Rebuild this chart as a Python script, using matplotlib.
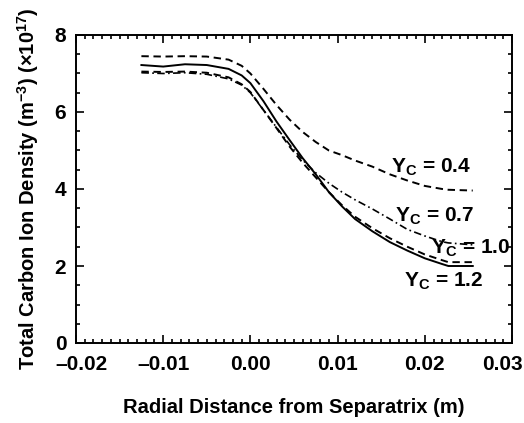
import matplotlib
matplotlib.use("Agg")
import matplotlib.pyplot as plt
from matplotlib.ticker import MultipleLocator
from matplotlib.transforms import ScaledTranslation

# ---- data ----
x_pts = [-0.0125, -0.010, -0.0075, -0.005, -0.0025, -0.001, 0.0, 0.0015, 0.003, 0.0045,
         0.006, 0.0075, 0.009, 0.0105, 0.012, 0.014, 0.016, 0.018, 0.020, 0.022, 0.0227, 0.0255]
y_04 = [7.45, 7.44, 7.45, 7.44, 7.36, 7.20, 7.00, 6.60, 6.18, 5.80,
        5.48, 5.22, 5.00, 4.88, 4.74, 4.58, 4.38, 4.22, 4.08, 4.00, 3.98, 3.96]
y_07 = [7.02, 7.00, 7.02, 6.98, 6.86, 6.70, 6.50, 6.05, 5.60, 5.15,
        4.75, 4.42, 4.15, 3.92, 3.72, 3.48, 3.22, 2.95, 2.78, 2.63, 2.60, 2.55]
y_10 = [7.05, 7.04, 7.05, 7.02, 6.90, 6.72, 6.52, 6.05, 5.58, 5.10,
        4.68, 4.30, 3.92, 3.58, 3.28, 2.98, 2.72, 2.50, 2.30, 2.15, 2.10, 2.10]
y_12 = [7.22, 7.18, 7.24, 7.22, 7.12, 6.95, 6.75, 6.28, 5.75, 5.27,
        4.80, 4.38, 3.92, 3.55, 3.22, 2.90, 2.62, 2.40, 2.20, 2.05, 2.00, 2.00]
labels = ["Y$_\\mathregular{C}$ = 0.4", "Y$_\\mathregular{C}$ = 0.7",
          "Y$_\\mathregular{C}$ = 1.0", "Y$_\\mathregular{C}$ = 1.2"]
label_pos = [(0.0207, 4.57), (0.0211, 3.30), (0.0252, 2.47), (0.0222, 1.61)]
xticks = [-0.02, -0.01, 0.00, 0.01, 0.02, 0.03]
xticklabels = ["\u20130.02", "\u20130.01", "0.00", "0.01", "0.02", "0.03"]
yticks = [0, 2, 4, 6, 8]

fam = "Liberation Sans"
plt.rcParams["font.family"] = [fam, "DejaVu Sans"]
plt.rcParams["font.weight"] = "bold"
plt.rcParams["mathtext.fontset"] = "custom"
plt.rcParams["mathtext.rm"] = fam + ":bold"
plt.rcParams["mathtext.it"] = fam + ":bold"
plt.rcParams["mathtext.bf"] = fam + ":bold"
plt.rcParams["mathtext.default"] = "rm"

fig = plt.figure(figsize=(5.24, 4.23), dpi=100)
ax = fig.add_axes([76/524, 1-343/423, (512-76)/524, (343-35)/423])

lw = 1.4
ax.plot(x_pts, y_04, color="black", lw=lw, dashes=(3.8, 2.4))
ax.plot(x_pts, y_07, color="black", lw=1.2, dashes=(4.5, 2.0, 1.0, 2.0))
ax.plot(x_pts, y_10, color="black", lw=lw, dashes=(3.8, 2.4))
ax.plot(x_pts, y_12, color="black", lw=lw)

fs = 14.5
for (lx, ly), t in zip(label_pos, labels):
    ax.text(lx, ly, t, ha="center", va="center", fontsize=15, fontweight="bold")

ax.set_xlim(-0.02, 0.03)
ax.set_ylim(0, 8)
ax.set_xticks(xticks)
ax.set_xticklabels(xticklabels)
ax.set_yticks(yticks)
ax.xaxis.set_minor_locator(MultipleLocator(0.001))
ax.yaxis.set_minor_locator(MultipleLocator(0.5))
ax.tick_params(which="both", direction="in", top=True, right=True, width=1.2)
ax.tick_params(which="major", length=6, labelsize=15)
ax.tick_params(axis="x", which="major", pad=9)
ax.tick_params(axis="y", which="major", pad=7)
ax.tick_params(which="minor", length=3)
for s in ax.spines.values():
    s.set_linewidth(1.4)
xlabs = ax.get_xticklabels()
for lab in xlabs + ax.get_yticklabels():
    lab.set_fontweight("bold")
# nudge the end labels inward as in the reference
xlabs[0].set_transform(xlabs[0].get_transform() + ScaledTranslation(6/100, 0, fig.dpi_scale_trans))
xlabs[-1].set_transform(xlabs[-1].get_transform() + ScaledTranslation(-10/100, 0, fig.dpi_scale_trans))

ax.set_xlabel("Radial Distance from Separatrix (m)", fontsize=fs, fontweight="bold", labelpad=17)
ax.set_ylabel("Total Carbon Ion Density (m$^{\u22123}$) (\u00d710$^{17}$)", fontsize=fs,
              fontweight="bold", labelpad=10)

fig.savefig("out.png", dpi=100)
